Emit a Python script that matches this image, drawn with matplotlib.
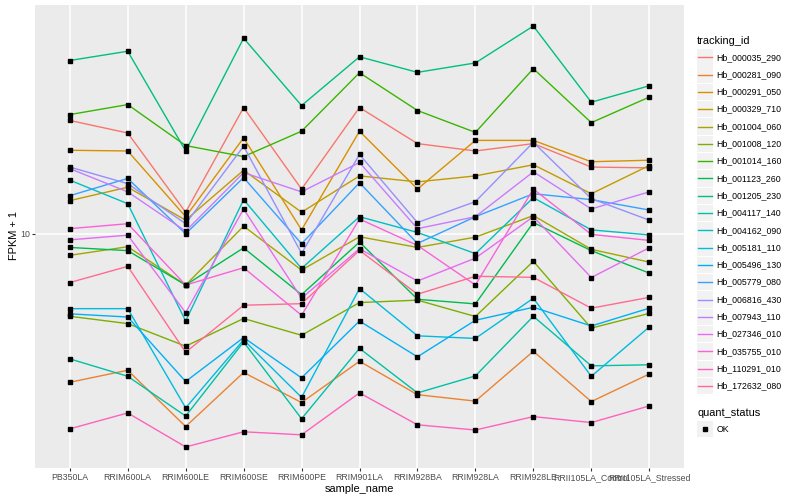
import numpy as np
import matplotlib
matplotlib.use("Agg")
import matplotlib.pyplot as plt
import matplotlib.ticker as mticker
from matplotlib.patches import Rectangle
from matplotlib.lines import Line2D

plt.rcParams['font.family'] = ['Liberation Sans', 'DejaVu Sans']

# x categories
samples = ["PB350LA", "RRIM600LA", "RRIM600LE", "RRIM600SE", "RRIM600PE", "RRIM901LA",
           "RRIM928BA", "RRIM928LA", "RRIM928LE", "RRII105LA_Control", "RRII105LA_Stressed"]

# FPKM + 1 per gene, one value per sample
Hb_000035_290 = [23.9, 21.7, 11.8, 26.4, 14.1, 26.4, 20.0, 18.9, 20.0, 16.7, 16.6]
Hb_000281_090 = [3.19, 3.50, 2.27, 3.44, 2.73, 3.75, 2.90, 2.76, 4.05, 2.75, 3.40]
Hb_000291_050 = [19.0, 18.9, 11.4, 20.9, 10.3, 22.0, 14.1, 20.5, 20.5, 17.4, 17.6]
Hb_000329_710 = [12.9, 14.3, 11.1, 16.3, 11.8, 15.6, 14.9, 15.6, 17.0, 13.6, 16.9]
Hb_001004_060 = [8.47, 9.05, 6.74, 10.6, 7.56, 9.77, 9.00, 9.74, 11.5, 8.87, 8.04]
Hb_001008_120 = [5.30, 5.01, 4.21, 5.21, 4.58, 5.89, 6.00, 5.29, 8.09, 4.84, 5.42]
Hb_001014_160 = [25.0, 27.0, 19.7, 18.1, 22.0, 34.5, 25.8, 21.8, 35.6, 23.5, 28.6]
Hb_001123_260 = [9.00, 8.78, 6.74, 8.97, 6.26, 9.38, 6.04, 5.83, 10.9, 8.78, 7.39]
Hb_001205_230 = [37.9, 40.7, 18.9, 45.0, 26.8, 39.0, 34.6, 37.2, 49.4, 27.5, 31.2]
Hb_004117_140 = [3.82, 3.34, 2.46, 4.35, 2.41, 4.14, 2.94, 3.35, 5.30, 3.62, 3.65]
Hb_004162_090 = [15.1, 12.6, 5.11, 13.0, 7.66, 11.4, 10.1, 8.58, 13.2, 10.3, 9.91]
Hb_005181_110 = [5.62, 5.62, 2.62, 4.42, 2.84, 6.56, 4.56, 4.47, 6.09, 3.34, 4.88]
Hb_005496_130 = [5.40, 5.27, 3.21, 4.50, 3.30, 5.11, 3.88, 5.14, 5.68, 4.92, 5.64]
Hb_005779_080 = [13.4, 15.3, 10.0, 15.4, 9.26, 14.8, 9.28, 11.4, 13.6, 13.0, 12.0]
Hb_006816_430 = [16.7, 14.7, 10.8, 19.6, 8.60, 18.4, 10.9, 12.8, 20.2, 13.1, 11.1]
Hb_007943_110 = [16.5, 13.8, 10.2, 16.0, 13.8, 17.3, 10.4, 11.4, 16.1, 12.1, 13.8]
Hb_027346_010 = [9.54, 9.89, 5.45, 12.1, 6.09, 8.91, 6.95, 8.29, 11.4, 7.14, 8.98]
Hb_035755_010 = [10.4, 10.8, 6.74, 7.70, 5.34, 11.2, 9.14, 6.74, 14.1, 9.95, 9.50]
Hb_110291_010 = [2.23, 2.52, 1.94, 2.18, 2.13, 2.94, 2.30, 2.21, 2.45, 2.34, 2.66]
Hb_172632_080 = [6.87, 7.78, 4.02, 5.77, 5.84, 8.80, 6.28, 7.21, 7.15, 5.64, 6.13]

tracking_ids = ["Hb_000035_290", "Hb_000281_090", "Hb_000291_050", "Hb_000329_710",
                "Hb_001004_060", "Hb_001008_120", "Hb_001014_160", "Hb_001123_260",
                "Hb_001205_230", "Hb_004117_140", "Hb_004162_090", "Hb_005181_110",
                "Hb_005496_130", "Hb_005779_080", "Hb_006816_430", "Hb_007943_110",
                "Hb_027346_010", "Hb_035755_010", "Hb_110291_010", "Hb_172632_080"]
values = [Hb_000035_290, Hb_000281_090, Hb_000291_050, Hb_000329_710, Hb_001004_060,
          Hb_001008_120, Hb_001014_160, Hb_001123_260, Hb_001205_230, Hb_004117_140,
          Hb_004162_090, Hb_005181_110, Hb_005496_130, Hb_005779_080, Hb_006816_430,
          Hb_007943_110, Hb_027346_010, Hb_035755_010, Hb_110291_010, Hb_172632_080]

# ggplot default hue palette for 20 levels
hues = ["#F8766D", "#EA8331", "#D89000", "#C09B00", "#A3A500", "#7CAE00", "#39B600",
        "#00BB4E", "#00BF7D", "#00C1A3", "#00BFC4", "#00BAE0", "#00B0F6", "#35A2FF",
        "#9590FF", "#C77CFF", "#E76BF3", "#FA62DB", "#FF62BC", "#FF6C91"]

W, H = 800, 500
fig = plt.figure(figsize=(8, 5), dpi=100)
ax = fig.add_axes([35/W, 1-468/H, (684-35)/W, (468-5)/H])
ax.set_facecolor("#EBEBEB")

x = np.arange(len(samples))
for vals, col in zip(values, hues):
    ax.plot(x, vals, color=col, lw=1.0, zorder=2)
for vals in values:
    ax.plot(x, vals, ls="none", marker="s", ms=2.6, color="black", zorder=3)

ax.set_yscale("log")
ax.yaxis.set_major_locator(mticker.FixedLocator([10]))
ax.yaxis.set_major_formatter(mticker.FixedFormatter(["10"]))
ax.yaxis.set_minor_locator(mticker.NullLocator())
ax.set_xticks(x)
ax.set_xticklabels(samples)
ax.set_xlim(-0.6, len(samples) - 0.4)
allv = np.concatenate([np.array(v) for v in values])
lo, hi = np.log10(allv.min()), np.log10(allv.max())
pad = 0.05 * (hi - lo)
ax.set_ylim(10**(lo - pad), 10**(hi + pad))

ax.grid(True, color="white", lw=1.1)
ax.set_axisbelow(True)
for s in ax.spines.values():
    s.set_visible(False)
ax.tick_params(length=2, width=0.8, color="#333333", labelsize=6.3, labelcolor="#4D4D4D", pad=1.5)

fig.text(14/W, 1-236/H, "FPKM + 1", rotation=90, ha="center", va="center", fontsize=7.9)
fig.text(359.5/W, 1-488.5/H, "sample_name", ha="center", va="center", fontsize=7.9)

# legend, drawn by hand in ggplot style
fig.text(697/W, 1-40.7/H, "tracking_id", ha="left", va="center", fontsize=7.9)
for i, (tid, col) in enumerate(zip(tracking_ids, hues)):
    yc = 57.3 + 17.3*i
    fig.add_artist(Rectangle((696.7/W, 1-(yc+8.2)/H), 16.4/W, 16.4/H, facecolor="#F2F2F2",
                             edgecolor="none", transform=fig.transFigure))
    fig.add_artist(Line2D([698/W, 711.5/W], [1-yc/H, 1-yc/H], color=col, lw=1.0,
                          transform=fig.transFigure))
    fig.text(716.7/W, 1-yc/H, tid, ha="left", va="center", fontsize=6.3)

fig.text(697/W, 1-412.7/H, "quant_status", ha="left", va="center", fontsize=7.9)
fig.add_artist(Rectangle((696.7/W, 1-(429+8.2)/H), 16.4/W, 16.4/H, facecolor="#F2F2F2",
                         edgecolor="none", transform=fig.transFigure))
fig.add_artist(Line2D([704.9/W], [1-429/H], ls="none", marker="s", ms=2.6, color="black",
                      transform=fig.transFigure))
fig.text(716.7/W, 1-429/H, "OK", ha="left", va="center", fontsize=6.3)

fig.savefig("out.png", dpi=100)
